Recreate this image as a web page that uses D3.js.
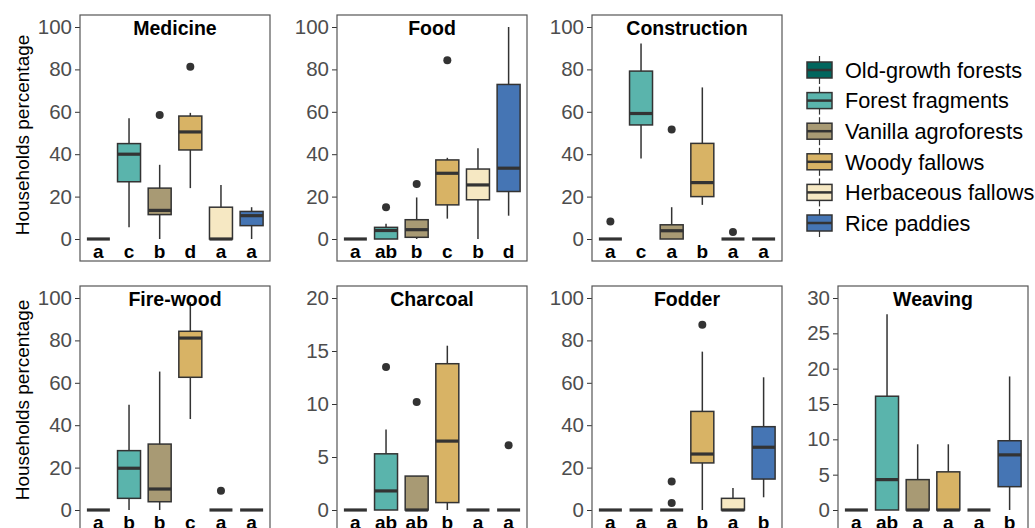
<!DOCTYPE html>
<html>
<head>
<meta charset="utf-8">
<script src="https://cdn.jsdelivr.net/npm/d3@7"></script>
<style>
  body { margin: 0; background: #fff; }
  svg { font-family: Arial, "Liberation Sans", Helvetica, sans-serif; }
</style>
</head>
<body>
<div id="viz"></div>
<script>
// habitat categories and fills
const habitats = ['Old-growth forests', 'Forest fragments', 'Vanilla agroforests',
  'Woody fallows', 'Herbaceous fallows', 'Rice paddies'];
const habitatColors = ['#01665E', '#5AB4AC', '#A89A74', '#D8B365', '#F6E8C3', '#4575B4'];

const panelNames = ['Medicine', 'Food', 'Construction', 'Fire-wood', 'Charcoal', 'Fodder', 'Weaving'];
const panelMax = [100, 100, 100, 100, 20, 100, 30];
const panelStep = [20, 20, 20, 20, 5, 20, 5];

// box stats per habitat: [lower whisker, q1, median, q3, upper whisker]
const medicine = [[0,0,0,0,0], [5.6,27,40,45,57], [0,11.5,13.5,24,35], [24,42,50.5,58,59.5], [0,0,0,15,25.5], [0,6.3,11,13,15]];
const food = [[0,0,0,0,0], [0,0,4,5.5,7.2], [0,0.8,4.4,9.1,19.6], [9.6,16.1,31,37.3,38.3], [0,18.5,25.5,33,42.8], [11,22.4,33.4,72.9,100]];
const construction = [[0,0,0,0,0], [38,53.8,59.2,79.2,92.2], [0,0,3.9,6.7,15], [16.1,20,26.6,45.1,71.5], [0,0,0,0,0], [0,0,0,0,0]];
const firewood = [[0,0,0,0,0], [0,5.5,19.7,28,49.7], [0,3.9,9.9,31.1,65.3], [42.9,62.6,81.1,84.3,98], [0,0,0,0,0], [0,0,0,0,0]];
const charcoal = [[0,0,0,0,0], [0,0,1.8,5.3,7.6], [0,0,0,3.2,3.2], [0,0.7,6.5,13.8,15.5], [0,0,0,0,0], [0,0,0,0,0]];
const fodder = [[0,0,0,0,0], [0,0,0,0,0], [0,0,0,0,0], [0,22.2,26.4,46.5,74.7], [0,0,0,5.5,10.4], [6,14.6,29.6,39.3,62.6]];
const weaving = [[0,0,0,0,0], [0,0,4.3,16.1,27.7], [0,0,0,4.3,9.3], [0,0,0,5.4,9.3], [0,0,0,0,0], [0,3.3,7.8,9.8,18.9]];

// outliers per habitat
const medicineOut = [[], [], [58.5], [81.2], [], []];
const foodOut = [[], [15], [25.9], [84.3], [], []];
const constructionOut = [[8.3], [], [51.7], [], [3.3], []];
const firewoodOut = [[], [], [], [], [9.1], []];
const charcoalOut = [[], [13.5], [10.2], [], [], [6.1]];
const fodderOut = [[], [], [13.5, 3.3], [87.4], [], []];
const weavingOut = [[], [], [], [], [], []];

// significance letters
const medicineLetters = ['a', 'c', 'b', 'd', 'a', 'a'];
const foodLetters = ['a', 'ab', 'b', 'c', 'b', 'd'];
const constructionLetters = ['a', 'c', 'a', 'b', 'a', 'a'];
const firewoodLetters = ['a', 'b', 'b', 'c', 'a', 'a'];
const charcoalLetters = ['a', 'ab', 'ab', 'b', 'a', 'a'];
const fodderLetters = ['a', 'a', 'a', 'b', 'a', 'b'];
const weavingLetters = ['a', 'ab', 'a', 'a', 'a', 'b'];

const panelStats = [medicine, food, construction, firewood, charcoal, fodder, weaving];
const panelOut = [medicineOut, foodOut, constructionOut, firewoodOut, charcoalOut, fodderOut, weavingOut];
const panelLetters = [medicineLetters, foodLetters, constructionLetters, firewoodLetters,
  charcoalLetters, fodderLetters, weavingLetters];

const width = 1035, height = 528;
const panelLeft = [80, 337, 592, 838];
const panelTop = [15, 286];
const panelW = 190, panelH = 246;
const ink = '#333333';

const svg = d3.select('#viz').append('svg')
  .attr('width', width)
  .attr('height', height);

panelNames.forEach((name, p) => {
  const col = p < 3 ? p : p - 3;
  const row = p < 3 ? 0 : 1;
  const left = panelLeft[col];
  const top = panelTop[row];

  const x = d3.scalePoint().domain(habitats).range([left, left + panelW]).padding(0.6);
  const y = d3.scaleLinear().domain([0, panelMax[p]]).range([top + 224, top + 12]);
  const bw = x.step() * 0.75;

  const g = svg.append('g').attr('class', 'panel');

  // y axis
  const axis = g.append('g')
    .attr('transform', `translate(${left},0)`)
    .call(d3.axisLeft(y)
      .tickValues(d3.range(0, panelMax[p] + 1, panelStep[p]))
      .tickSize(5)
      .tickPadding(3));
  axis.select('.domain').remove();
  axis.selectAll('.tick line').attr('stroke', ink).attr('stroke-width', 1);
  axis.selectAll('.tick text')
    .attr('fill', '#4D4D4D')
    .style('font-size', '20.5px');

  const data = habitats.map((h, i) => ({
    h, i, s: panelStats[p][i], out: panelOut[p][i], letter: panelLetters[p][i]
  }));

  const boxes = g.selectAll('.box').data(data).enter()
    .append('g').attr('class', 'box');

  boxes.append('line')
    .attr('x1', d => x(d.h)).attr('x2', d => x(d.h))
    .attr('y1', d => y(d.s[0])).attr('y2', d => y(d.s[4]))
    .attr('stroke', ink).attr('stroke-width', 1.5);

  boxes.append('rect')
    .attr('x', d => x(d.h) - bw / 2)
    .attr('width', bw)
    .attr('y', d => y(d.s[3]))
    .attr('height', d => y(d.s[1]) - y(d.s[3]))
    .attr('fill', d => habitatColors[d.i])
    .attr('stroke', ink).attr('stroke-width', 1.5);

  boxes.append('line')
    .attr('x1', d => x(d.h) - bw / 2).attr('x2', d => x(d.h) + bw / 2)
    .attr('y1', d => y(d.s[2])).attr('y2', d => y(d.s[2]))
    .attr('stroke', ink).attr('stroke-width', 3.2);

  boxes.selectAll('circle')
    .data(d => d.out.map(v => ({ h: d.h, v })))
    .enter().append('circle')
    .attr('cx', d => x(d.h))
    .attr('cy', d => y(d.v))
    .attr('r', 4)
    .attr('fill', ink);

  // letters sit at the panel foot (bottom row is cropped, as in the source)
  boxes.append('text')
    .attr('x', d => x(d.h))
    .attr('y', top + 243)
    .attr('text-anchor', 'middle')
    .style('font-size', '19px')
    .style('font-weight', 'bold')
    .attr('fill', '#000')
    .text(d => d.letter);

  // panel border
  g.append('rect')
    .attr('x', left).attr('y', top)
    .attr('width', panelW).attr('height', panelH)
    .attr('fill', 'none')
    .attr('stroke', '#555')
    .attr('stroke-width', 1.2);

  g.append('text')
    .attr('x', left + panelW / 2)
    .attr('y', top + 20)
    .attr('text-anchor', 'middle')
    .style('font-size', '19.5px')
    .style('font-weight', 'bold')
    .text(name);
});

// y axis titles
panelTop.forEach((top, r) => {
  svg.append('text')
    .attr('transform', `translate(29,${top + 120 - r * 6}) rotate(-90)`)
    .attr('text-anchor', 'middle')
    .style('font-size', '19px')
    .attr('fill', '#000')
    .text('Households percentage');
});

// legend
const legend = svg.append('g').attr('class', 'legend');
const keyX = 807, keyW = 25;
const items = legend.selectAll('g').data(habitats).enter()
  .append('g')
  .attr('transform', (d, i) => `translate(0,${70 + i * 30.6})`);

items.append('line')
  .attr('x1', keyX + keyW / 2).attr('x2', keyX + keyW / 2)
  .attr('y1', -14).attr('y2', 14)
  .attr('stroke', ink).attr('stroke-width', 1.2);
items.append('rect')
  .attr('x', keyX).attr('y', -8)
  .attr('width', keyW).attr('height', 16)
  .attr('fill', (d, i) => habitatColors[i])
  .attr('stroke', ink).attr('stroke-width', 1.5);
items.append('line')
  .attr('x1', keyX).attr('x2', keyX + keyW)
  .attr('y1', 0).attr('y2', 0)
  .attr('stroke', ink).attr('stroke-width', 2.5);
items.append('text')
  .attr('x', 845)
  .attr('y', 0)
  .attr('dy', '0.36em')
  .style('font-size', '21.7px')
  .attr('fill', '#000')
  .text(d => d);
</script>
</body>
</html>
